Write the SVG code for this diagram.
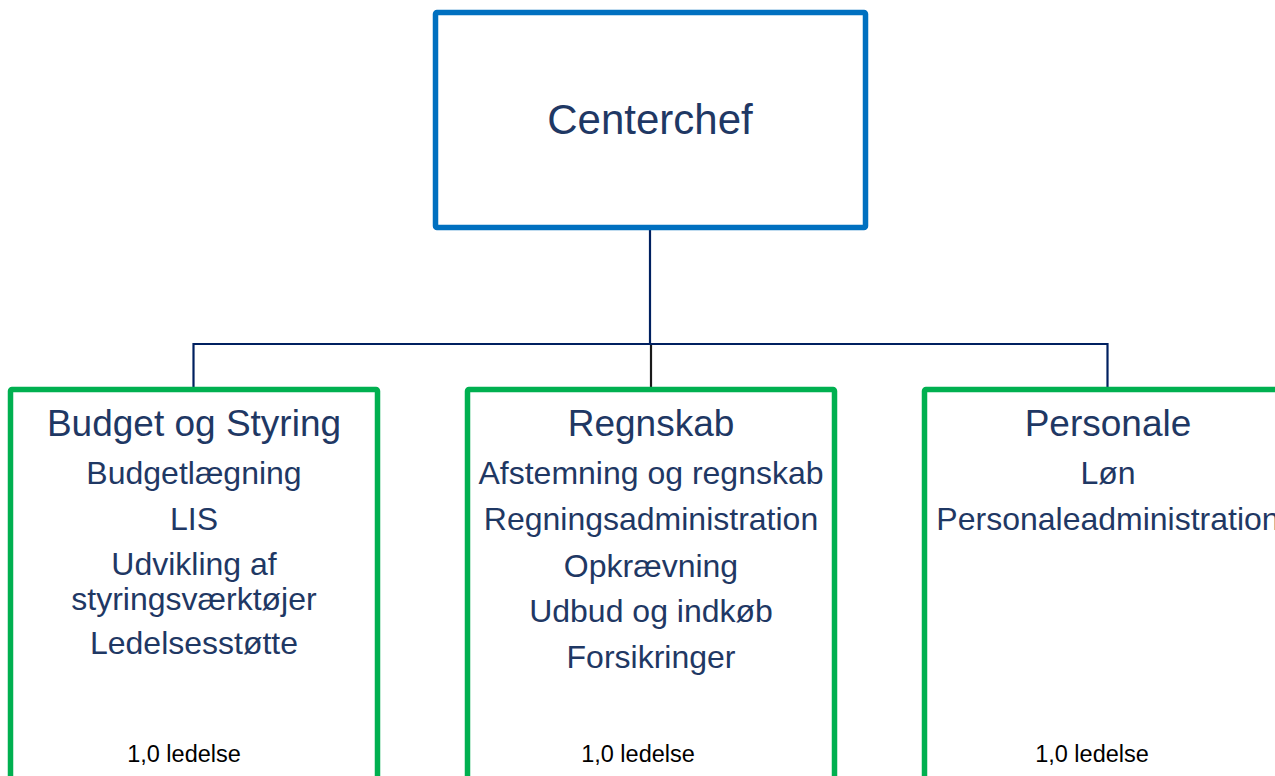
<svg xmlns="http://www.w3.org/2000/svg" width="1275" height="776" viewBox="0 0 1275 776">
<style>
.t{font-family:"Liberation Sans",Arial,sans-serif;fill:#1F3864;text-anchor:middle}
.h{font-size:37px}
.i{font-size:32px}
.f{font-family:"Liberation Sans",Arial,sans-serif;fill:#000;font-size:23.5px;text-anchor:middle}
.g{fill:#fff;stroke:#00B050;stroke-width:5.5}
.c{fill:none;stroke:#002060;stroke-width:2.2}
</style>
<rect width="1275" height="776" fill="#fff"/>
<g id="connectors">
<line class="c" x1="650" y1="228" x2="650" y2="344"/>
<line class="c" x1="193.5" y1="344" x2="1107.5" y2="344"/>
<line class="c" x1="193.5" y1="343" x2="193.5" y2="388"/>
<line class="c" x1="1107.5" y1="343" x2="1107.5" y2="388"/>
<line x1="651" y1="345" x2="651" y2="388" stroke="#1a1a1a" stroke-width="2.2"/>
</g>
<g id="centerchef">
<rect x="435.5" y="12.5" width="430" height="215" rx="1.5" fill="#fff" stroke="#0070C0" stroke-width="5.5"/>
<text class="t" x="650" y="134" font-size="42">Centerchef</text>
</g>
<g id="budget">
<rect class="g" x="10.5" y="389.5" width="367" height="420" rx="1.5"/>
<text class="t h" x="194" y="436">Budget og Styring</text>
<text class="t i" x="194" y="484">Budgetlægning</text>
<text class="t i" x="194" y="530">LIS</text>
<text class="t i" x="194" y="575">Udvikling af</text>
<text class="t i" x="194" y="610">styringsværktøjer</text>
<text class="t i" x="194" y="654">Ledelsesstøtte</text>
<text class="f" x="184" y="762">1,0 ledelse</text>
</g>
<g id="regnskab">
<rect class="g" x="467.5" y="389.5" width="367" height="420" rx="1.5"/>
<text class="t h" x="651" y="436">Regnskab</text>
<text class="t i" x="651" y="484">Afstemning og regnskab</text>
<text class="t i" x="651" y="530">Regningsadministration</text>
<text class="t i" x="651" y="577">Opkrævning</text>
<text class="t i" x="651" y="622">Udbud og indkøb</text>
<text class="t i" x="651" y="668">Forsikringer</text>
<text class="f" x="638" y="762">1,0 ledelse</text>
</g>
<g id="personale">
<rect class="g" x="924.5" y="389.5" width="367" height="420" rx="1.5"/>
<text class="t h" x="1108" y="436">Personale</text>
<text class="t i" x="1108" y="484">Løn</text>
<text class="t i" x="1108" y="530">Personaleadministration</text>
<text class="f" x="1092" y="762">1,0 ledelse</text>
</g>
</svg>
